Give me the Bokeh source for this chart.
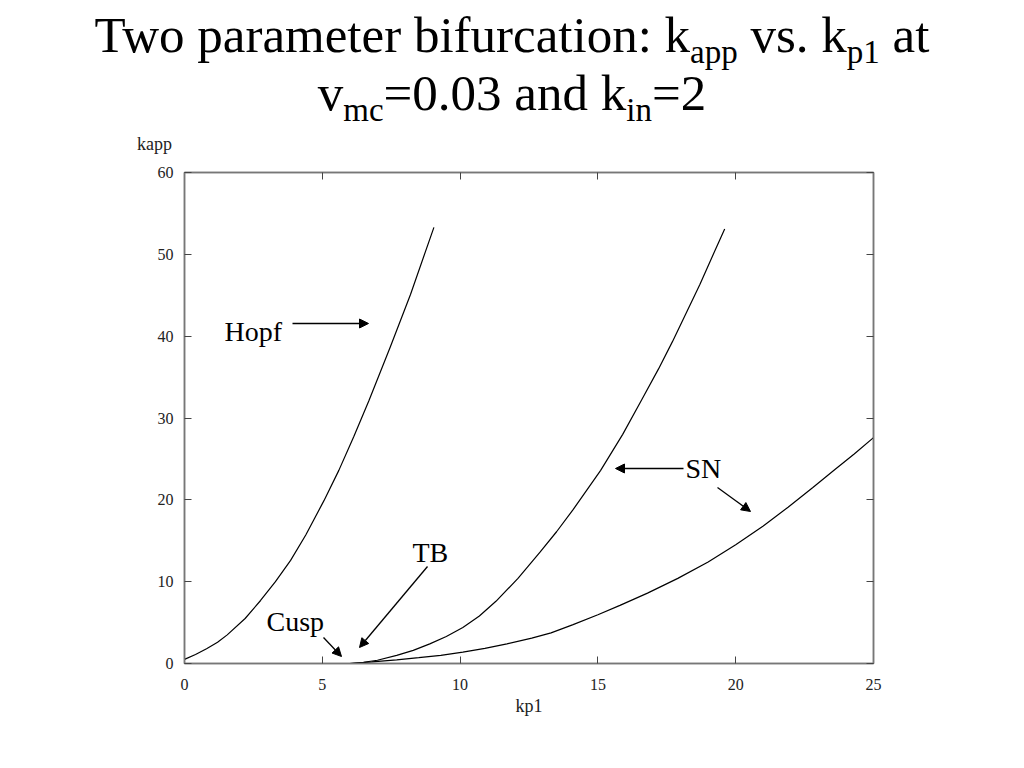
from bokeh.plotting import figure
from bokeh.models import Range1d, LinearAxis, FixedTicker, Label, Arrow, NormalHead, Div
from bokeh.layouts import column
from bokeh.embed import file_html
from bokeh.resources import INLINE

# ---- data ----
hopf_kp1 = [0, 0.4, 0.8, 1.2, 1.55, 2.2, 2.76, 3.3, 3.85, 4.4, 5.06, 5.6, 6.14, 6.69, 7.47, 8.20, 9.05]
hopf_kapp = [0.5, 1.1, 1.8, 2.6, 3.5, 5.5, 7.7, 10.0, 12.6, 15.7, 19.9, 23.6, 27.7, 32.1, 38.7, 45.1, 53.3]

sn_upper_kp1 = [6.0, 6.5, 7.0, 7.7, 8.3, 8.9, 9.5, 10.1, 10.7, 11.3, 12.1, 12.9, 13.5, 14.1,
                15.1, 15.9, 16.6, 17.2, 17.7, 18.2, 18.7, 19.2, 19.6]
sn_upper_kapp = [0, 0.15, 0.4, 1.0, 1.6, 2.4, 3.3, 4.4, 5.8, 7.6, 10.4, 13.6, 16.1, 18.8,
                 23.6, 28.0, 32.3, 36.0, 39.3, 42.8, 46.3, 50.1, 53.1]

sn_lower_kp1 = [6.0, 6.8, 7.7, 8.5, 9.3, 10.1, 10.9, 11.7, 12.6, 13.3, 14.1, 15.0, 15.8,
                16.8, 17.9, 19.0, 20.0, 21.0, 21.9, 22.8, 23.6, 24.3, 25.0]
sn_lower_kapp = [0, 0.2, 0.45, 0.72, 1.0, 1.4, 1.85, 2.4, 3.1, 3.75, 4.75, 5.95, 7.1,
                 8.6, 10.4, 12.4, 14.5, 16.8, 19.1, 21.5, 23.7, 25.6, 27.6]

x_ticks = [0, 5, 10, 15, 20, 25]
y_ticks = [0, 10, 20, 30, 40, 50, 60]

FONT = "Liberation Serif"
CSS_FONT = "'Liberation Serif', 'Times New Roman', Times, serif"
W = 1008
TH = 160          # height of title strip
MH = 584          # height of main plot

# ---------------- title strip (HTML text with real subscripts) ----------------
SUB = ('<sub style="font-family:' + CSS_FONT +
       '; font-size:33px; vertical-align:-11px; line-height:0">{}</sub>')
title_html = (
    '<div style="width:1024px; text-align:center; font-family:' + CSS_FONT + '; '
    'font-size:51px; line-height:58px; color:black; padding-top:6px; margin:0;">'
    'Two parameter bifurcation: k' + SUB.format('app') + ' vs. k' + SUB.format('p1') + ' at<br>'
    'v' + SUB.format('mc') + '=0.03 and k' + SUB.format('in') + '=2'
    '</div>'
    '<div style="margin:13px 0 0 137px; font-family:' + CSS_FONT + '; font-size:18px; '
    'line-height:18px; color:#222222; text-align:left;">kapp</div>'
)
t = Div(text=title_html, width=W, height=TH, margin=0,
        styles={"font-family": CSS_FONT})

# ---------------- main plot ----------------
p = figure(width=W, height=MH, output_backend="svg", toolbar_location=None,
           x_range=Range1d(0, 25), y_range=Range1d(0, 60),
           min_border_left=184, min_border_right=W - 184 - 689,
           min_border_top=172 - TH, min_border_bottom=MH - (172 - TH) - 491,
           background_fill_color="white", border_fill_color="white")
p.grid.visible = False
p.outline_line_color = "#777777"
p.outline_line_width = 1.5

for ax in [p.xaxis[0], p.yaxis[0]]:
    ax.axis_line_color = "#777777"
    ax.axis_line_width = 1.5
    ax.major_tick_in = 7
    ax.major_tick_out = 0
    ax.major_tick_line_color = "#444444"
    ax.minor_tick_line_color = None
    ax.major_label_text_font = FONT
    ax.major_label_text_font_size = "16px"
    ax.major_label_text_color = "#222222"

p.xaxis[0].ticker = FixedTicker(ticks=x_ticks)
p.yaxis[0].ticker = FixedTicker(ticks=y_ticks)
p.xaxis[0].major_label_standoff = 15
p.yaxis[0].major_label_standoff = 11
p.xaxis[0].axis_label = "kp1"
p.xaxis[0].axis_label_text_font = FONT
p.xaxis[0].axis_label_text_font_size = "18px"
p.xaxis[0].axis_label_text_font_style = "normal"
p.xaxis[0].axis_label_text_color = "#222222"
p.xaxis[0].axis_label_standoff = 3

for loc, ticks in [("above", x_ticks), ("right", y_ticks)]:
    ax = LinearAxis(ticker=FixedTicker(ticks=ticks))
    ax.axis_line_color = "#777777"
    ax.axis_line_width = 1.5
    ax.major_tick_in = 7
    ax.major_tick_out = 0
    ax.major_tick_line_color = "#444444"
    ax.minor_tick_line_color = None
    ax.major_label_text_alpha = 0
    ax.major_label_text_font_size = "1px"
    ax.major_label_standoff = 0
    p.add_layout(ax, loc)

# curves
for xs, ys in [(hopf_kp1, hopf_kapp), (sn_upper_kp1, sn_upper_kapp), (sn_lower_kp1, sn_lower_kapp)]:
    p.line(xs, ys, line_color="black", line_width=1.2)


# page pixel -> data helpers (annotation placement only)
def px2x(px):
    return (px - 184) / 27.56


def py2y(py):
    return (663 - py) / 8.183


ann = [("Hopf", 224, 331), ("SN", 685, 468), ("TB", 412, 552), ("Cusp", 266, 621)]
for txt, lx, ly in ann:
    p.add_layout(Label(x=px2x(lx), y=py2y(ly), text=txt, text_font=FONT,
                       text_font_size="28px", text_color="black",
                       text_baseline="middle", text_align="left"))

arrows = [((292, 323), (368, 323)), ((683, 468), (615, 468)), ((717, 487), (750, 511)),
          ((427, 566), (359, 647)), ((323, 637), (341, 656))]
for (x0, y0), (x1, y1) in arrows:
    p.add_layout(Arrow(end=NormalHead(size=9, fill_color="black", line_color="black"),
                       x_start=px2x(x0), y_start=py2y(y0), x_end=px2x(x1), y_end=py2y(y1),
                       line_color="black", line_width=1.3))

layout = column(t, p, spacing=0)
open("out.html", "w").write(file_html(layout, INLINE))
